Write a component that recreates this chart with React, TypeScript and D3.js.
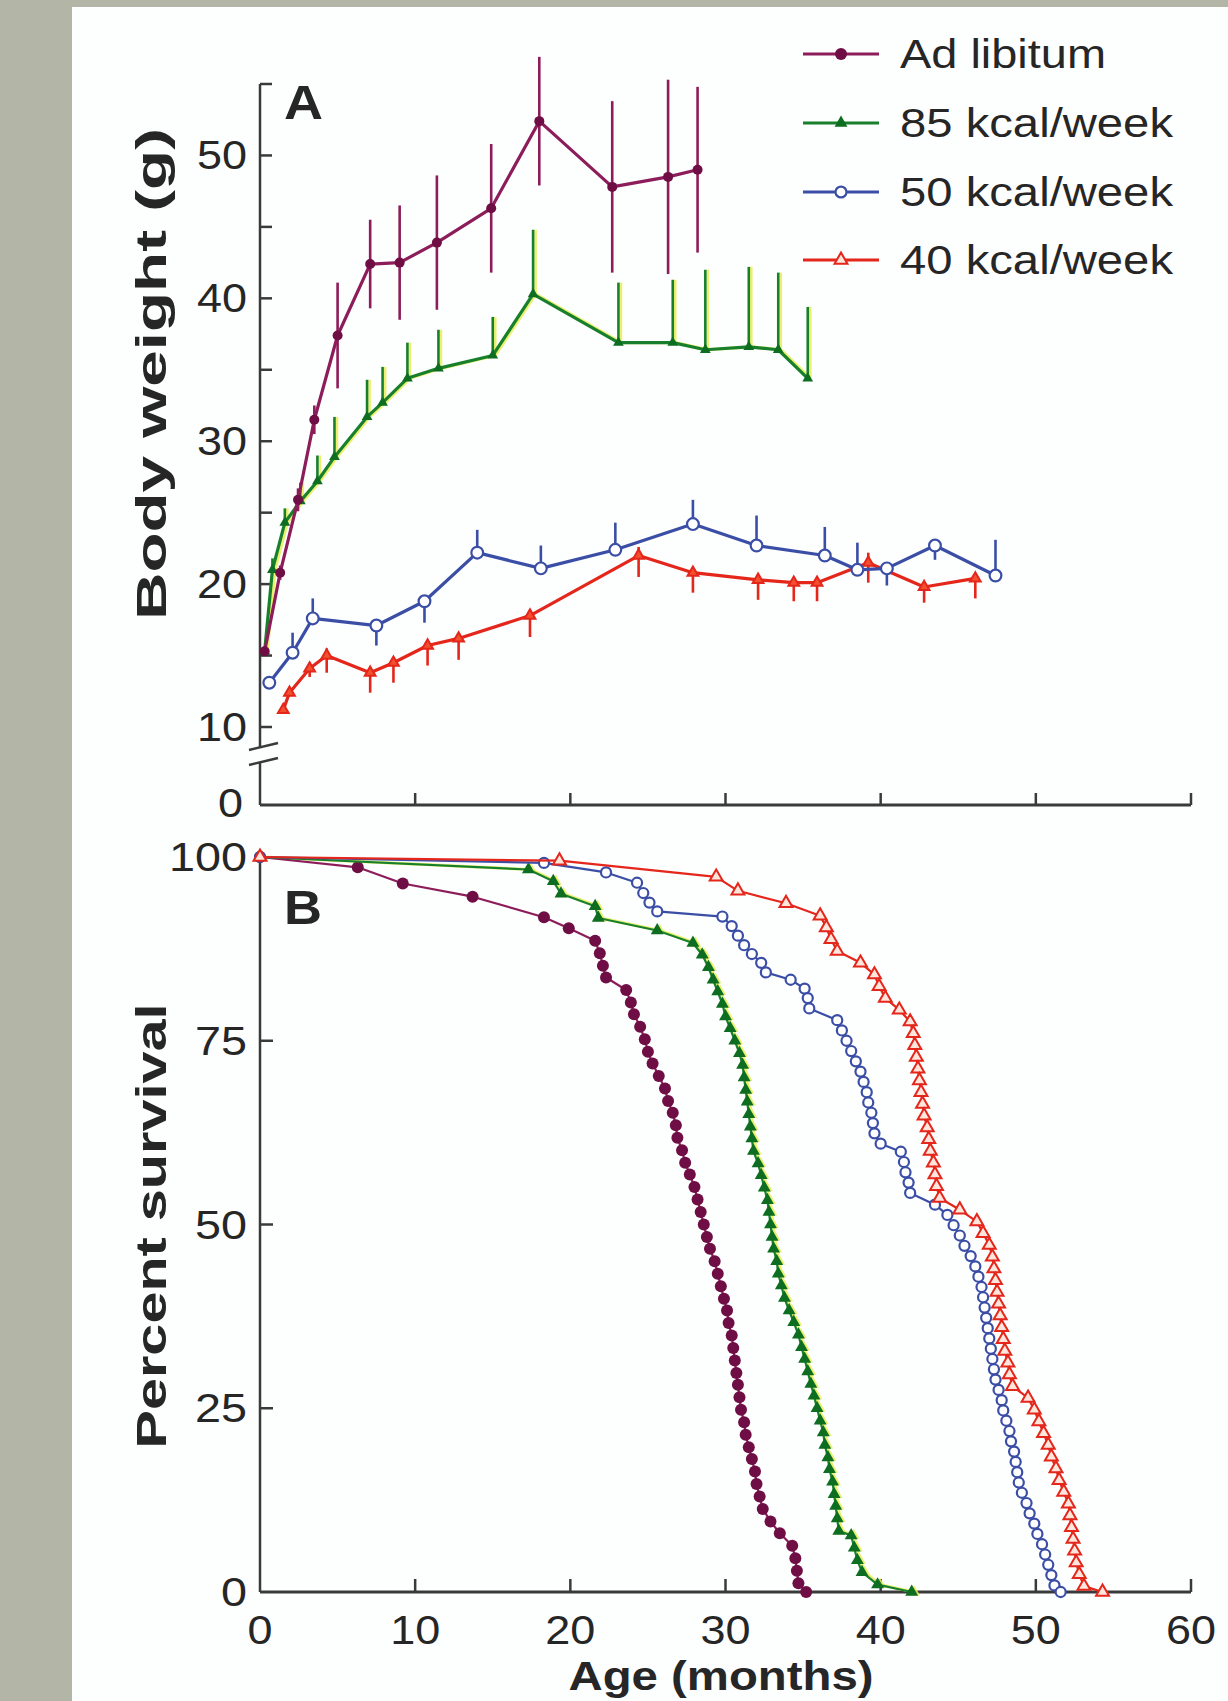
import React from "react";
import * as d3 from "d3";

// ---- Panel A: body weight (g) vs age (months) ----
const adLibAge = [0.3, 1.3, 2.45, 3.5, 5.0, 7.1, 9.0, 11.4, 14.9, 18.0, 22.7, 26.3, 28.2];
const adLibWeight = [15.3, 20.8, 25.9, 31.5, 37.4, 42.4, 42.5, 43.9, 46.3, 52.4, 47.8, 48.5, 49.0];
const adLibErrUp = [0, 0.5, 0.8, 1.0, 3.7, 3.1, 4.0, 4.7, 4.5, 4.5, 6.0, 6.8, 5.8];
const adLibErrDown = [0, 0.5, 0.8, 1.0, 3.7, 3.1, 4.0, 4.7, 4.5, 4.5, 6.0, 6.8, 5.8];

const k85Age = [0.3, 0.8, 1.6, 2.6, 3.7, 4.8, 6.9, 7.9, 9.5, 11.5, 15.0, 17.6, 23.1, 26.6, 28.7, 31.5, 33.4, 35.3];
const k85Weight = [15.3, 21.0, 24.3, 25.8, 27.2, 28.9, 31.7, 32.7, 34.4, 35.1, 36.0, 40.3, 36.9, 36.9, 36.4, 36.6, 36.4, 34.4];
const k85ErrUp = [0, 0.8, 1.0, 1.3, 1.8, 2.8, 2.6, 2.5, 2.5, 2.7, 2.7, 4.5, 4.2, 4.4, 5.6, 5.6, 5.4, 5.0];
const k85ErrDown = [0, 0, 0, 0, 0, 0, 0, 0, 0, 0, 0, 0, 0, 0, 0, 0, 0, 0];

const k50Age = [0.6, 2.1, 3.4, 7.5, 10.6, 14.0, 18.1, 22.9, 27.9, 32.0, 36.4, 38.5, 40.4, 43.5, 47.4];
const k50Weight = [13.1, 15.2, 17.6, 17.1, 18.8, 22.2, 21.1, 22.4, 24.2, 22.7, 22.0, 21.0, 21.1, 22.7, 20.6];
const k50ErrUp = [0, 1.4, 1.4, 0, 0, 1.6, 1.6, 1.9, 1.7, 2.1, 2.0, 1.9, 0, 0, 2.5];
const k50ErrDown = [0, 0, 0, 1.4, 1.5, 0, 0, 0, 0, 0, 0, 0, 1.2, 1.0, 0];

const k40Age = [1.5, 1.9, 3.2, 4.3, 7.1, 8.6, 10.8, 12.8, 17.4, 24.4, 27.9, 32.1, 34.4, 35.9, 39.2, 42.8, 46.1];
const k40Weight = [11.2, 12.4, 14.1, 15.0, 13.8, 14.5, 15.7, 16.2, 17.8, 22.0, 20.8, 20.3, 20.1, 20.1, 21.5, 19.8, 20.4];
const k40ErrUp = [0, 0, 0, 0.5, 0, 0, 0, 0, 0, 0.6, 0, 0, 0, 0, 0.7, 0, 0];
const k40ErrDown = [0, 0, 0.6, 1.2, 1.4, 1.4, 1.4, 1.5, 1.5, 1.5, 1.4, 1.4, 1.3, 1.3, 1.4, 1.1, 1.4];

// ---- Panel B: percent survival, [age, percent] ----
const adLibSurvival: [number, number][] = [
  [0, 100], [6.3, 98.6], [9.2, 96.4], [13.7, 94.6], [18.3, 91.8], [19.9, 90.3], [21.6, 88.6],
  [21.9, 86.9], [22.1, 85.2], [22.3, 83.6], [23.6, 81.9], [23.9, 80.2], [24.1, 78.6], [24.5, 76.9],
  [24.8, 75.2], [25.0, 73.5], [25.3, 71.9], [25.7, 70.2], [26.1, 68.5], [26.3, 66.8], [26.6, 65.2],
  [26.8, 63.5], [26.9, 61.8], [27.2, 60.1], [27.4, 58.4], [27.7, 56.8], [28.0, 55.1], [28.2, 53.4],
  [28.4, 51.7], [28.6, 50.0], [28.8, 48.3], [29.0, 46.7], [29.3, 45.0], [29.5, 43.3], [29.7, 41.6],
  [29.9, 39.9], [30.1, 38.3], [30.2, 36.6], [30.4, 34.9], [30.5, 33.2], [30.6, 31.5], [30.7, 29.8],
  [30.8, 28.2], [30.9, 26.5], [31.0, 24.8], [31.2, 23.1], [31.3, 21.4], [31.5, 19.7], [31.7, 18.1],
  [31.9, 16.4], [32.0, 14.7], [32.2, 13.0], [32.4, 11.3], [32.9, 9.6], [33.5, 8.0], [34.3, 6.3],
  [34.5, 4.6], [34.6, 2.9], [34.7, 1.2], [35.2, 0],
];
const k85Survival: [number, number][] = [
  [0, 100], [17.3, 98.3], [18.9, 96.7], [19.4, 95.0], [21.6, 93.3], [21.8, 91.7], [25.6, 90.0],
  [27.9, 88.3], [28.5, 86.7], [28.9, 85.0], [29.2, 83.3], [29.5, 81.7], [29.8, 80.0], [30.0, 78.3],
  [30.3, 76.7], [30.6, 75.0], [30.9, 73.3], [31.1, 71.7], [31.2, 70.0], [31.3, 68.3], [31.4, 66.7],
  [31.5, 65.0], [31.6, 63.3], [31.7, 61.7], [31.8, 60.0], [32.1, 58.3], [32.3, 56.7], [32.5, 55.0],
  [32.7, 53.3], [32.8, 51.7], [32.9, 50.0], [33.0, 48.3], [33.1, 46.7], [33.3, 45.0], [33.4, 43.3],
  [33.6, 41.7], [33.8, 40.0], [34.1, 38.3], [34.4, 36.7], [34.7, 35.0], [34.9, 33.3], [35.1, 31.7],
  [35.3, 30.0], [35.5, 28.3], [35.7, 26.7], [35.9, 25.0], [36.1, 23.3], [36.3, 21.7], [36.4, 20.0],
  [36.6, 18.3], [36.7, 16.7], [36.9, 15.0], [37.0, 13.3], [37.1, 11.7], [37.2, 10.0], [37.3, 8.3],
  [38.1, 7.7], [38.3, 6.0], [38.5, 4.3], [38.8, 2.7], [39.8, 1.0], [42.0, 0],
];
const k50Survival: [number, number][] = [
  [0, 100], [18.3, 99.2], [22.3, 97.9], [24.3, 96.5], [24.7, 95.1], [25.1, 93.8], [25.6, 92.6],
  [29.8, 91.9], [30.4, 90.6], [30.8, 89.3], [31.2, 88.0], [31.7, 86.8], [32.3, 85.6], [32.6, 84.3],
  [34.2, 83.3], [35.1, 82.1], [35.3, 80.8], [35.4, 79.4], [37.2, 77.8], [37.5, 76.4], [37.8, 75.0],
  [38.1, 73.6], [38.4, 72.2], [38.7, 70.8], [38.9, 69.4], [39.1, 68.0], [39.2, 66.6], [39.4, 65.2],
  [39.5, 63.8], [39.6, 62.4], [40.0, 61.0], [41.3, 59.9], [41.5, 58.5], [41.6, 57.1], [41.8, 55.7],
  [41.9, 54.3], [43.5, 52.7], [44.3, 51.3], [44.7, 49.9], [45.1, 48.5], [45.4, 47.1], [45.8, 45.7],
  [46.1, 44.3], [46.3, 42.9], [46.5, 41.5], [46.6, 40.1], [46.7, 38.7], [46.8, 37.3], [46.9, 35.9],
  [47.0, 34.5], [47.1, 33.1], [47.2, 31.7], [47.3, 30.3], [47.4, 28.9], [47.6, 27.5], [47.8, 26.1],
  [47.9, 24.7], [48.1, 23.3], [48.3, 21.9], [48.4, 20.5], [48.6, 19.1], [48.7, 17.7], [48.8, 16.3],
  [48.9, 14.9], [49.1, 13.5], [49.4, 12.1], [49.6, 10.7], [49.9, 9.3], [50.1, 7.9], [50.4, 6.5],
  [50.6, 5.1], [50.8, 3.7], [51.0, 2.3], [51.2, 0.9], [51.6, 0],
];
const k40Survival: [number, number][] = [
  [0, 100], [19.3, 99.5], [29.4, 97.3], [30.8, 95.4], [33.9, 93.7], [36.1, 92.0], [36.5, 90.4],
  [36.8, 88.8], [37.2, 87.2], [38.7, 85.6], [39.6, 84.0], [39.9, 82.4], [40.3, 80.8], [41.2, 79.2],
  [41.9, 77.6], [42.1, 76.0], [42.2, 74.4], [42.3, 72.8], [42.4, 71.2], [42.5, 69.6], [42.6, 68.0],
  [42.7, 66.4], [42.8, 64.8], [43.0, 63.2], [43.1, 61.6], [43.2, 60.0], [43.4, 58.4], [43.5, 56.8],
  [43.6, 55.2], [43.8, 53.6], [45.1, 52.0], [46.2, 50.4], [46.6, 48.8], [47.0, 47.2], [47.2, 45.6],
  [47.3, 44.0], [47.4, 42.4], [47.5, 40.8], [47.6, 39.2], [47.7, 37.6], [47.8, 36.0], [47.9, 34.4],
  [48.0, 32.8], [48.2, 31.2], [48.3, 29.6], [48.5, 28.0], [49.5, 26.4], [49.9, 24.8], [50.2, 23.2],
  [50.5, 21.6], [50.8, 20.0], [51.0, 18.4], [51.3, 16.8], [51.5, 15.2], [51.8, 13.6], [52.1, 12.0],
  [52.2, 10.4], [52.3, 8.8], [52.4, 7.2], [52.5, 5.6], [52.6, 4.0], [52.8, 2.4], [53.1, 0.8], [54.3, 0],
];

const legendLabels = ["Ad libitum", "85 kcal/week", "50 kcal/week", "40 kcal/week"];
const weightTicks = [10, 20, 30, 40, 50];
const weightMinorTicks = [15, 25, 35, 45, 55];
const survivalTicks = [0, 25, 50, 75, 100];
const ageTicks = [0, 10, 20, 30, 40, 50, 60];

const W = 1228;
const H = 1701;
const FONT = "'Liberation Sans', Arial, Helvetica, sans-serif";
const INK = "#262626";
const AXIS = "#3a3a3a";

const x = d3.scaleLinear().domain([0, 60]).range([260, 1191]);
const yA = d3.scaleLinear().domain([10, 55]).range([727, 84]);
const yB = d3.scaleLinear().domain([0, 100]).range([1592, 857]);
const axisBaseA = 805;

type Marker = "dot" | "triFill" | "ring" | "triOpen";

const seriesStyle = [
  { line: "#8c1d5a", mark: "#6f0d45", marker: "dot" as Marker },
  { line: "#18802c", mark: "#0d6d20", marker: "triFill" as Marker },
  { line: "#3b4ea6", mark: "#3b4ea6", marker: "ring" as Marker },
  { line: "#e4261b", mark: "#e4261b", marker: "triOpen" as Marker },
];

const triPath = (area: number) => d3.symbol().type(d3.symbolTriangle).size(area)() as string;

function MarkerShape({ kind, cx, cy, color, s, solid = false }: { kind: Marker; cx: number; cy: number; color: string; s: number; solid?: boolean }) {
  if (kind === "dot") return <circle cx={cx} cy={cy} r={s * 0.5} fill={color} />;
  if (kind === "ring")
    return <circle cx={cx} cy={cy} r={s * 0.42} fill="#fff" stroke={color} strokeWidth={2.2} />;
  if (kind === "triFill")
    return <path d={triPath(s * s * 0.5)} transform={`translate(${cx},${cy})`} fill={color} />;
  return (
    <path
      d={triPath(s * s * 0.5)}
      transform={`translate(${cx},${cy})`}
      fill={solid ? "#f2502e" : "#ffe6dc"}
      stroke={color}
      strokeWidth={2}
    />
  );
}

function Txt({ x: tx, y: ty, children, size = 40, len, anchor = "start", bold = false, rotate = false }: any) {
  return (
    <text
      x={rotate ? 0 : tx}
      y={rotate ? 0 : ty}
      transform={rotate ? `translate(${tx},${ty}) rotate(-90)` : undefined}
      fontFamily={FONT}
      fontSize={size}
      fontWeight={bold ? "bold" : "normal"}
      fill={INK}
      textAnchor={anchor}
      textLength={len}
      lengthAdjust="spacingAndGlyphs"
    >
      {children}
    </text>
  );
}

export default function App() {
  const panelA = [
    { age: adLibAge, val: adLibWeight, up: adLibErrUp, down: adLibErrDown },
    { age: k85Age, val: k85Weight, up: k85ErrUp, down: k85ErrDown },
    { age: k50Age, val: k50Weight, up: k50ErrUp, down: k50ErrDown },
    { age: k40Age, val: k40Weight, up: k40ErrUp, down: k40ErrDown },
  ];
  const panelB = [adLibSurvival, k85Survival, k50Survival, k40Survival];

  const lineA = d3
    .line<number[]>()
    .x((d) => x(d[0]))
    .y((d) => yA(d[1]));
  const lineB = d3
    .line<number[]>()
    .x((d) => x(d[0]))
    .y((d) => yB(d[1]));

  const drawOrderA = [3, 2, 1, 0];
  const drawOrderB = [0, 1, 2, 3];

  const renderA = (i: number, fringe: boolean) => {
    const s = panelA[i];
    const st = seriesStyle[i];
    const pts = s.age.map((a, k) => [a, s.val[k]]);
    const col = fringe ? "#e9ee55" : st.line;
    return (
      <g key={`a${i}${fringe}`} transform={fringe ? "translate(2.5,0)" : undefined} opacity={fringe ? 0.85 : 1}>
        {pts.map((p, k) => (
          <line
            key={k}
            x1={x(p[0])}
            x2={x(p[0])}
            y1={yA(p[1] + s.up[k])}
            y2={yA(p[1] - s.down[k])}
            stroke={col}
            strokeWidth={2.6}
          />
        ))}
        <path d={lineA(pts) as string} fill="none" stroke={col} strokeWidth={3.2} strokeLinejoin="round" />
        {!fringe &&
          pts.map((p, k) => (
            <MarkerShape
              key={k}
              kind={st.marker}
              cx={x(p[0])}
              cy={yA(p[1])}
              color={st.mark}
              s={st.marker === "ring" ? 14 : 10}
              solid
            />
          ))}
      </g>
    );
  };

  const renderB = (i: number, fringe: boolean) => {
    const pts = panelB[i];
    const st = seriesStyle[i];
    const col = fringe ? "#e9ee55" : st.line;
    return (
      <g key={`b${i}${fringe}`} transform={fringe ? "translate(2.5,0)" : undefined} opacity={fringe ? 0.85 : 1}>
        <path d={lineB(pts) as string} fill="none" stroke={col} strokeWidth={fringe ? 3 : 2.2} strokeLinejoin="round" />
        {pts.map((p, k) =>
          fringe ? (
            <path key={k} d={triPath(60)} transform={`translate(${x(p[0])},${yB(p[1])})`} fill={col} />
          ) : (
            <MarkerShape key={k} kind={st.marker} cx={x(p[0])} cy={yB(p[1])} color={st.mark} s={12} />
          )
        )}
      </g>
    );
  };

  const legendY = [54, 123, 192, 260];

  return (
    <div>
      <style>{"body{margin:0}"}</style>
      <svg width={W} height={H} style={{ display: "block" }}>
        <rect x={0} y={0} width={W} height={H} fill="#b3b5a6" />
        <rect x={72} y={7} width={W - 72} height={H - 7} fill="#fdfefe" />

        {/* ---------- Panel A axes ---------- */}
        <line x1={x(0)} x2={x(0)} y1={yA(55)} y2={748} stroke={AXIS} strokeWidth={2.5} />
        <line x1={x(0)} x2={x(0)} y1={763} y2={axisBaseA} stroke={AXIS} strokeWidth={2.5} />
        <line x1={249} x2={278} y1={750} y2={743} stroke={AXIS} strokeWidth={2.5} />
        <line x1={249} x2={278} y1={765} y2={758} stroke={AXIS} strokeWidth={2.5} />
        <line x1={x(0)} x2={x(60)} y1={axisBaseA} y2={axisBaseA} stroke={AXIS} strokeWidth={2.8} />
        {weightTicks.concat(weightMinorTicks).map((t) => (
          <line key={t} x1={x(0)} x2={x(0) + 12} y1={yA(t)} y2={yA(t)} stroke={AXIS} strokeWidth={2.5} />
        ))}
        {ageTicks.slice(1).map((t) => (
          <line key={t} x1={x(t)} x2={x(t)} y1={axisBaseA} y2={axisBaseA - 12} stroke={AXIS} strokeWidth={2.5} />
        ))}
        {weightTicks.map((t) => (
          <Txt key={t} x={247} y={yA(t) + 14} anchor="end" len={50}>
            {t}
          </Txt>
        ))}
        <Txt x={243} y={axisBaseA + 12} anchor="end" len={25}>
          0
        </Txt>
        <Txt x={166} y={374} rotate anchor="middle" bold size={42} len={492}>
          Body weight (g)
        </Txt>
        <Txt x={284} y={119} bold size={48} len={39}>
          A
        </Txt>

        {/* ---------- Panel A data ---------- */}
        {renderA(1, true)}
        {drawOrderA.map((i) => renderA(i, false))}

        {/* ---------- Legend ---------- */}
        {legendLabels.map((lab, i) => (
          <g key={lab}>
            <line x1={803} x2={879} y1={legendY[i]} y2={legendY[i]} stroke={seriesStyle[i].line} strokeWidth={3} />
            <MarkerShape
              kind={seriesStyle[i].marker}
              cx={841}
              cy={legendY[i]}
              color={seriesStyle[i].mark}
              s={seriesStyle[i].marker === "ring" ? 13 : 12}
            />
            <Txt x={900} y={legendY[i] + 14} len={i === 0 ? 206 : 273}>
              {lab}
            </Txt>
          </g>
        ))}

        {/* ---------- Panel B axes ---------- */}
        <line x1={x(0)} x2={x(0)} y1={yB(100)} y2={yB(0)} stroke={AXIS} strokeWidth={2.5} />
        <line x1={x(0)} x2={x(60)} y1={yB(0)} y2={yB(0)} stroke={AXIS} strokeWidth={3} />
        {survivalTicks.slice(1, 4).map((t) => (
          <line key={t} x1={x(0)} x2={x(0) + 13} y1={yB(t)} y2={yB(t)} stroke={AXIS} strokeWidth={2.5} />
        ))}
        {ageTicks.slice(1).map((t) => (
          <line key={t} x1={x(t)} x2={x(t)} y1={yB(0)} y2={yB(0) - 13} stroke={AXIS} strokeWidth={2.5} />
        ))}
        {survivalTicks.map((t) => (
          <Txt key={t} x={247} y={yB(t) + 14} anchor="end" len={String(t).length * 26}>
            {t}
          </Txt>
        ))}
        {ageTicks.map((t) => (
          <Txt key={t} x={x(t)} y={1644} anchor="middle" len={String(t).length * 25}>
            {t}
          </Txt>
        ))}
        <Txt x={721} y={1690} anchor="middle" bold size={40} len={305}>
          Age (months)
        </Txt>
        <Txt x={166} y={1226} rotate anchor="middle" bold size={42} len={445}>
          Percent survival
        </Txt>
        <Txt x={284} y={924} bold size={48} len={38}>
          B
        </Txt>

        {/* ---------- Panel B data ---------- */}
        {renderB(1, true)}
        {drawOrderB.map((i) => renderB(i, false))}
      </svg>
    </div>
  );
}
